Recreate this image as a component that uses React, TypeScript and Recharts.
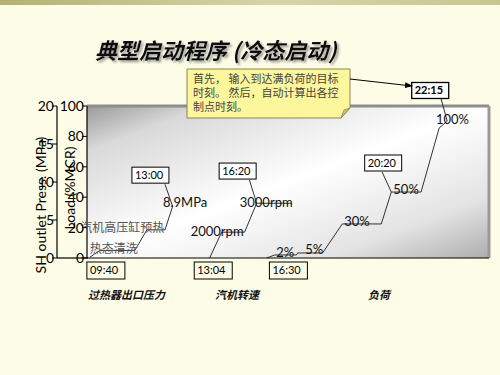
import React from 'react';
import {
  ComposedChart,
  Line,
  XAxis,
  YAxis,
  ReferenceArea,
  ReferenceDot,
  ReferenceLine,
} from 'recharts';

// x is a schematic time position across the plot (0-100)
const pressureX = [0.7, 3.2, 11.9, 14.9, 19.4, 21.3];
const pressureMPa = [0.1, 1.0, 1.0, 3.7, 3.7, 6.8];

const speedX = [30.5, 33.5, 39.2, 42.2, 50.9];
const speedLevel = [0, 17, 17, 36, 36]; // drawn against the load scale

const loadX = [44.7, 46.7, 52.1, 52.4, 58.6, 63.5, 73.2, 75.7, 83.1, 87.6, 89.6];
const loadPct = [0, 2, 2, 3.3, 3.3, 22.4, 22.4, 43.4, 43.4, 85.5, 90];

const timeTicks = [4.7, 31.4, 50.1];
const timeLabels = ['09:40', '13:04', '16:30'];

const loadTicks = [0, 20, 40, 60, 80, 100];
const pressTicks = [0, 5, 10, 15, 20];

const pressureData = pressureX.map((x, i) => ({ x, v: pressureMPa[i] }));
const speedData = speedX.map((x, i) => ({ x, v: speedLevel[i] }));
const loadData = loadX.map((x, i) => ({ x, v: loadPct[i] }));

const NUM_FONT = "Lato, 'Open Sans', sans-serif";
const CJK_FONT = "'Noto Sans CJK SC', sans-serif";

const TimeTick = (props: any) => {
  const { x, y, payload } = props;
  const label = timeLabels[timeTicks.indexOf(payload.value)];
  return (
    <g>
      <rect x={x - 19} y={y + 4} width={38} height={17} fill="none" stroke="#000" strokeWidth={1} />
      <text x={x - 16} y={y + 16} fontSize={11} fontFamily={NUM_FONT} fill="#000">
        {label}
      </text>
    </g>
  );
};

const axisTitle = (text: string, dx: number, dy: number) => (props: any) => {
  const { x, y, height } = props.viewBox;
  const cx = x + dx;
  const cy = y + height / 2 + dy;
  return (
    <text
      x={cx}
      y={cy}
      transform={`rotate(-90 ${cx} ${cy})`}
      textAnchor="middle"
      dominantBaseline="central"
      fontSize={14}
      fontFamily={NUM_FONT}
      fill="#000"
    >
      {text}
    </text>
  );
};

// plain text mark placed at a data coordinate
const textMark = (text: string, opts: any = {}) => (p: any) => (
  <text
    x={p.cx}
    y={p.cy}
    fontSize={opts.size || 13}
    fontFamily={opts.font || NUM_FONT}
    fill={opts.color || '#111'}
  >
    {text}
  </text>
);

// boxed time callout centred on a data coordinate
const boxMark = (text: string, bold = false) => (p: any) => (
  <g>
    <rect x={p.cx - 19} y={p.cy - 8} width={37} height={16} fill="#fff" stroke="#000" strokeWidth={bold ? 1.3 : 1} />
    <text x={p.cx - 16} y={p.cy + 4} fontSize={11} fontWeight={bold ? 700 : 400} fontFamily={NUM_FONT} fill="#000">
      {text}
    </text>
  </g>
);

export default function App() {
  return (
    <div style={{ position: 'absolute', left: 0, top: 0, width: 500, height: 375, background: '#fdfde7', overflow: 'hidden' }}>
      <div
        style={{
          position: 'absolute',
          left: 0,
          top: 0,
          width: 500,
          height: 5,
          background: 'linear-gradient(to right, #b4b173, #d7d5a6 55%, #c8c690)',
        }}
      />
      <div style={{ position: 'absolute', left: 0, top: 0 }}>
        <ComposedChart width={500} height={375} margin={{ top: 106, right: 11, bottom: 87, left: 27 }}>
          <defs>
            <linearGradient id="plotBg" x1="0" y1="0" x2="1" y2="1">
              <stop offset="0" stopColor="#9a9a9a" />
              <stop offset="0.15" stopColor="#d9d9d9" />
              <stop offset="0.5" stopColor="#ffffff" />
              <stop offset="0.8" stopColor="#e3e3e3" />
              <stop offset="1" stopColor="#adadad" />
            </linearGradient>
          </defs>
          <XAxis
            type="number"
            dataKey="x"
            domain={[0, 100]}
            ticks={timeTicks}
            tick={<TimeTick />}
            tickLine={false}
            tickSize={0}
            tickMargin={0}
            height={30}
            axisLine={{ stroke: '#000', strokeWidth: 1.2 }}
            allowDataOverflow
          />
          <YAxis
            yAxisId="load"
            domain={[0, 100]}
            ticks={loadTicks}
            width={30}
            tickSize={5}
            tickMargin={-2}
            tick={{ fill: '#000', fontSize: 14, fontFamily: NUM_FONT }}
            tickLine={{ stroke: '#000' }}
            axisLine={{ stroke: '#000', strokeWidth: 1.2 }}
            label={axisTitle('Load (%MCR)', 12, 6)}
          />
          <YAxis
            yAxisId="mpa"
            domain={[0, 20]}
            ticks={pressTicks}
            width={30}
            tickSize={5}
            tickMargin={-2}
            tick={{ fill: '#000', fontSize: 14, fontFamily: NUM_FONT }}
            tickLine={{ stroke: '#000' }}
            axisLine={{ stroke: '#000', strokeWidth: 1.2 }}
            label={axisTitle('SH outlet Press. (MPa)', 13, 23)}
          />
          <ReferenceArea yAxisId="load" x1={0} x2={100} y1={0} y2={100} fill="url(#plotBg)" fillOpacity={1} stroke="none" />
          <ReferenceLine yAxisId="load" y={100} stroke="#8d8d8d" strokeWidth={3} />
          <ReferenceLine yAxisId="load" x={100} stroke="#9a9a9a" strokeWidth={3} />

          <Line yAxisId="mpa" data={pressureData} dataKey="v" type="linear" stroke="#333" strokeWidth={1} dot={false} isAnimationActive={false} />
          <Line yAxisId="load" data={speedData} dataKey="v" type="linear" stroke="#333" strokeWidth={1} dot={false} isAnimationActive={false} />
          <Line yAxisId="load" data={loadData} dataKey="v" type="linear" stroke="#333" strokeWidth={1} dot={false} isAnimationActive={false} />

          {/* leaders from the time callouts to the curve points */}
          <ReferenceLine yAxisId="mpa" segment={[{ x: 19.4, y: 9.7 }, { x: pressureX[5], y: pressureMPa[5] }]} stroke="#333" ifOverflow="visible" />
          <ReferenceLine yAxisId="load" segment={[{ x: 40.4, y: 51.3 }, { x: speedX[3], y: speedLevel[3] }]} stroke="#333" ifOverflow="visible" />
          <ReferenceLine yAxisId="load" segment={[{ x: 73.4, y: 56.6 }, { x: loadX[7], y: loadPct[7] }]} stroke="#333" ifOverflow="visible" />
          <ReferenceLine yAxisId="load" segment={[{ x: 88.1, y: 104.6 }, { x: loadX[10], y: loadPct[10] }]} stroke="#333" ifOverflow="visible" />

          <ReferenceDot yAxisId="mpa" x={15.9} y={10.9} r={0} ifOverflow="visible" shape={boxMark('13:00')} />
          <ReferenceDot yAxisId="load" x={37.6} y={57.2} r={0} ifOverflow="visible" shape={boxMark('16:20')} />
          <ReferenceDot yAxisId="load" x={73.8} y={62.5} r={0} ifOverflow="visible" shape={boxMark('20:20')} />
          <ReferenceDot yAxisId="load" x={85.5} y={110.2} r={0} ifOverflow="visible" shape={boxMark('22:15', true)} />

          <ReferenceDot yAxisId="load" x={18.9} y={33.6} r={0} ifOverflow="visible" shape={textMark('8.9MPa')} />
          <ReferenceDot yAxisId="load" x={25.8} y={14.5} r={0} ifOverflow="visible" shape={textMark('2000rpm')} />
          <ReferenceDot yAxisId="load" x={38.0} y={33.6} r={0} ifOverflow="visible" shape={textMark('3000rpm')} />
          <ReferenceDot yAxisId="load" x={47.1} y={0.7} r={0} ifOverflow="visible" shape={textMark('2%')} />
          <ReferenceDot yAxisId="load" x={54.3} y={2.6} r={0} ifOverflow="visible" shape={textMark('5%')} />
          <ReferenceDot yAxisId="load" x={64.0} y={21.1} r={0} ifOverflow="visible" shape={textMark('30%')} />
          <ReferenceDot yAxisId="load" x={76.2} y={42.1} r={0} ifOverflow="visible" shape={textMark('50%')} />
          <ReferenceDot yAxisId="load" x={86.8} y={88.2} r={0} ifOverflow="visible" shape={textMark('100%')} />
          <ReferenceDot yAxisId="load" x={-1.7} y={17.1} r={0} ifOverflow="visible" shape={textMark('汽机高压缸预热', { size: 12, font: CJK_FONT, color: '#555' })} />
          <ReferenceDot yAxisId="load" x={0.7} y={3.3} r={0} ifOverflow="visible" shape={textMark('热态清洗', { size: 12, font: CJK_FONT, color: '#555' })} />
        </ComposedChart>
      </div>
      <svg width={500} height={375} style={{ position: 'absolute', left: 0, top: 0, pointerEvents: 'none' }}>
        <defs>
          <marker id="arrowHead" markerWidth="8" markerHeight="6" refX="7" refY="3" orient="auto">
            <path d="M0,0 L8,3 L0,6 Z" fill="#000" />
          </marker>
          <filter id="titleShadow" x="-5%" y="-20%" width="110%" height="150%">
            <feDropShadow dx="2" dy="2" stdDeviation="0.8" floodColor="#888" floodOpacity="0.8" />
          </filter>
        </defs>
        {/* x axis runs on under the pressure axis */}
        <line x1={57} y1={258} x2={88} y2={258} stroke="#000" strokeWidth={1.2} />

        <text
          x={95}
          y={59}
          fontSize={22}
          fontWeight={700}
          fontStyle="italic"
          fontFamily={CJK_FONT}
          fill="#111"
          filter="url(#titleShadow)"
        >
          典型启动程序 (冷态启动)
        </text>

        <path d="M187,69 H350 V108 L341,118 H187 Z" fill="#fcf69c" stroke="#8a8650" strokeWidth={1} />
        <path d="M341,118 L344,110 L350,108 Z" fill="#cfc66a" stroke="#8a8650" strokeWidth={0.8} />
        <g fontSize={11} fontFamily={CJK_FONT} fill="#444">
          <text x={193} y={83}>首先， 输入到达满负荷的目标</text>
          <text x={193} y={97}>时刻。 然后，自动计算出各控</text>
          <text x={193} y={111}>制点时刻。</text>
        </g>
        <line x1={350} y1={79} x2={412} y2={86} stroke="#000" strokeWidth={1} markerEnd="url(#arrowHead)" />

        <g fontSize={11} fontWeight={700} fontStyle="italic" fontFamily={CJK_FONT} fill="#111">
          <text x={88} y={299}>过热器出口压力</text>
          <text x={215} y={299}>汽机转速</text>
          <text x={368} y={299}>负荷</text>
        </g>
      </svg>
    </div>
  );
}
